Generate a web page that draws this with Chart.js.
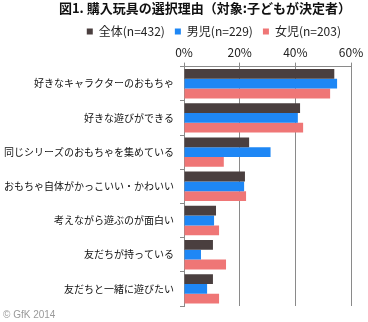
<!DOCTYPE html>
<html>
<head>
<meta charset="utf-8">
<script src="https://cdn.jsdelivr.net/npm/chart.js@4/dist/chart.umd.min.js"></script>
<style>
html,body{margin:0;padding:0;background:#fff;}
#wrap{width:368px;height:322px;position:relative;}
</style>
</head>
<body>
<div id="wrap"><canvas id="c" width="368" height="322"></canvas></div>
<script>
const categories = [
  "好きなキャラクターのおもちゃ",
  "好きな遊びができる",
  "同じシリーズのおもちゃを集めている",
  "おもちゃ自体がかっこいい・かわいい",
  "考えながら遊ぶのが面白い",
  "友だちが持っている",
  "友だちと一緒に遊びたい"
];
const seriesNames = ["全体(n=432)", "男児(n=229)", "女児(n=203)"];
const allValues  = [54.0, 41.7, 23.4, 21.9, 11.5, 10.4, 10.4];
const boyValues  = [55.0, 40.9, 31.1, 21.6, 10.8, 6.1, 8.3];
const girlValues = [52.5, 42.8, 14.3, 22.3, 12.6, 15.1, 12.6];
const xTicks = [0, 20, 40, 60];
const titleText = "図1. 購入玩具の選択理由（対象:子どもが決定者）";
const footerText = "© GfK 2014";

const colors = ["#4a3f3f", "#1e87f5", "#ef7676"];
const JP = "'Noto Sans CJK JP', 'Noto Sans', sans-serif";
const gridColor = "#8a8a8a";

const footerPlugin = {
  id: 'footer',
  afterDraw(chart) {
    const ctx = chart.ctx;
    ctx.save();
    ctx.font = "10px 'Liberation Sans', Arial, sans-serif";
    ctx.fillStyle = "#9a9a9a";
    ctx.textBaseline = "middle";
    ctx.textAlign = "left";
    ctx.fillText(footerText, 3, 315);
    ctx.restore();
  }
};

new Chart(document.getElementById('c'), {
  type: 'bar',
  data: {
    labels: categories,
    datasets: [
      { label: seriesNames[0], data: allValues, backgroundColor: colors[0] },
      { label: seriesNames[1], data: boyValues, backgroundColor: colors[1] },
      { label: seriesNames[2], data: girlValues, backgroundColor: colors[2] }
    ]
  },
  options: {
    indexAxis: 'y',
    responsive: false,
    animation: false,
    devicePixelRatio: 1,
    layout: { padding: { left: 0, right: 17, top: 0, bottom: 16 } },
    datasets: { bar: { barPercentage: 1, categoryPercentage: 0.86, borderWidth: 0 } },
    plugins: {
      title: {
        display: true,
        align: 'end',
        text: titleText,
        color: "#111",
        font: { family: JP, size: 13, weight: 'bold' },
        padding: { top: 0, bottom: 0 }
      },
      legend: {
        display: true,
        position: 'top',
        align: 'end',
        labels: {
          boxWidth: 6,
          boxHeight: 6,
          padding: 10,
          color: "#222",
          font: { family: JP, size: 12 }
        }
      },
      tooltip: { enabled: false }
    },
    scales: {
      x: {
        position: 'top',
        min: 0,
        max: 60,
        afterBuildTicks(scale) { scale.ticks = xTicks.map(v => ({ value: v })); },
        ticks: {
          color: "#222",
          padding: 3,
          font: { family: JP, size: 12 },
          callback: v => v + "%"
        },
        grid: { color: gridColor, lineWidth: 1, drawTicks: true, tickLength: 4 },
        border: { display: true, color: gridColor },
        afterFit(scale) { scale.height = 19; }
      },
      y: {
        ticks: {
          color: "#111",
          padding: 6,
          font: { family: JP, size: 10 }
        },
        grid: { drawOnChartArea: false, drawTicks: true, tickLength: 4, offset: true, color: gridColor },
        border: { display: true, color: gridColor },
        afterFit(scale) { scale.width = 184; }
      }
    }
  },
  plugins: [footerPlugin]
});
</script>
</body>
</html>
